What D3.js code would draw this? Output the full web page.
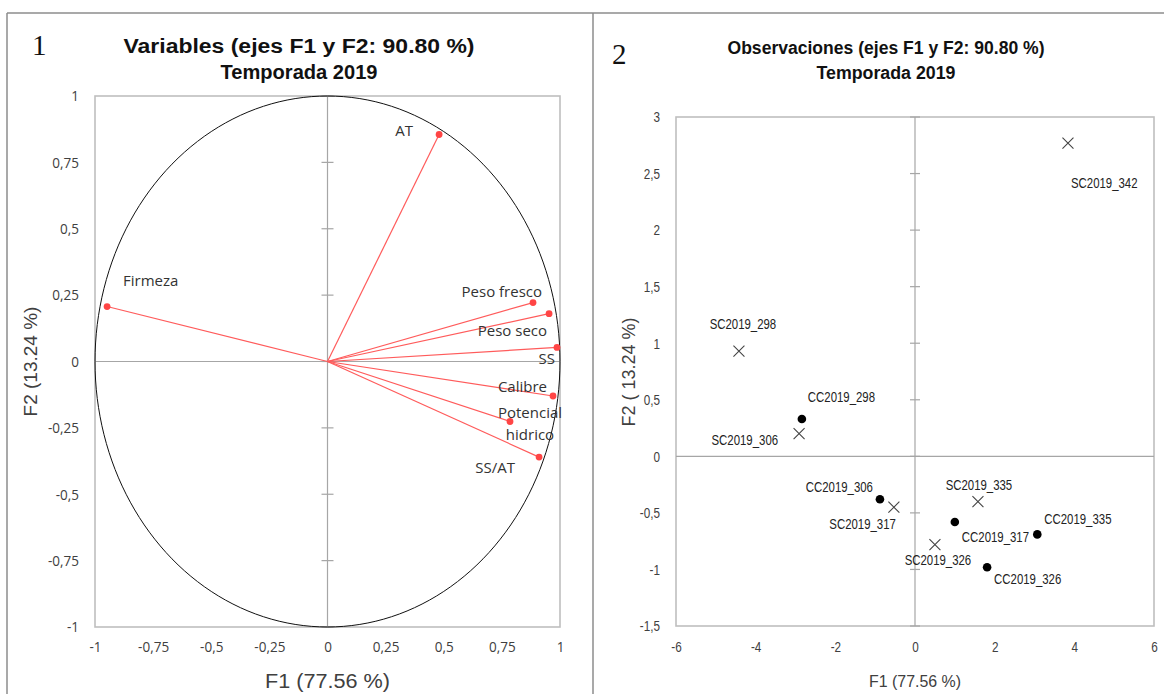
<!DOCTYPE html>
<html>
<head>
<meta charset="utf-8">
<script src="https://cdn.jsdelivr.net/npm/d3@7"></script>
<style>
  body { margin: 0; background: #fff; }
  .frame { stroke: #8c8c8c; stroke-width: 1.5; fill: none; }
  .box { stroke: #bfbfbf; stroke-width: 1.6; fill: none; }
  .zero { stroke: #a6a6a6; stroke-width: 1.2; }
  .vec { stroke: #ff5b5b; stroke-width: 1.2; }
  .title { font-family: "Liberation Sans", Arial, sans-serif; font-weight: bold; fill: #111; }
  .num { font-family: "Liberation Serif", "Times New Roman", serif; font-size: 29px; fill: #111; }
  .atitle { font-family: "Liberation Sans", Arial, sans-serif; fill: #404040; }
</style>
</head>
<body>
<svg id="chart" width="1164" height="694"></svg>
<script>
// ---- data ----
var variables = ["AT", "Firmeza", "Peso fresco", "Peso seco", "SS", "Calibre", "Potencial hidrico", "SS/AT"];
var varF1 = [0.48, -0.948, 0.884, 0.953, 0.987, 0.97, 0.785, 0.91];
var varF2 = [0.855, 0.207, 0.222, 0.18, 0.053, -0.13, -0.226, -0.36];

var observations = ["SC2019_342", "SC2019_298", "CC2019_298", "SC2019_306", "CC2019_306", "SC2019_317",
  "SC2019_335", "CC2019_317", "CC2019_335", "SC2019_326", "CC2019_326"];
var obsF1 = [3.84, -4.42, -2.84, -2.91, -0.88, -0.53, 1.58, 1.0, 3.07, 0.5, 1.81];
var obsF2 = [2.77, 0.93, 0.33, 0.2, -0.38, -0.45, -0.40, -0.58, -0.69, -0.78, -0.98];
var obsType = ["SC", "SC", "CC", "SC", "CC", "SC", "SC", "CC", "CC", "SC", "CC"];

var ticksLeft = [-1, -0.75, -0.5, -0.25, 0, 0.25, 0.5, 0.75, 1];
var ticksRightX = [-6, -4, -2, 0, 2, 4, 6];
var ticksRightY = [-1.5, -1, -0.5, 0, 0.5, 1, 1.5, 2, 2.5, 3];

// label placement (pixels, relative to the point)
var varLabelPos = {
  "AT": [-26, 2, "end"], "Firmeza": [16, -21, "start"], "Peso fresco": [9, -6, "end"],
  "Peso seco": [-2, 22, "end"], "SS": [-2, 17, "end"], "Calibre": [-6, -4, "end"],
  "Potencial hidrico": [20, -4, "middle"], "SS/AT": [-24, 16, "end"]
};
var obsLabelPos = {
  "SC2019_342": [3, 45, "start"], "SC2019_298": [4, -22, "middle"], "CC2019_298": [6, -17, "start"],
  "SC2019_306": [-21, 11, "end"], "CC2019_306": [-7, -7, "end"], "SC2019_317": [2, 22, "end"],
  "SC2019_335": [1, -12, "middle"], "CC2019_317": [7, 20, "start"], "CC2019_335": [7, -10, "start"],
  "SC2019_326": [3, 20, "middle"], "CC2019_326": [7, 17, "start"]
};

var loc = d3.formatLocale({ decimal: ",", thousands: ".", grouping: [3], currency: ["", ""], minus: "-" });
var fmt = loc.format("~g");

// squeeze text horizontally, like a narrow font
function narrow(sel, k) {
  sel.each(function () {
    var w = this.getComputedTextLength();
    d3.select(this).attr("textLength", w * k).attr("lengthAdjust", "spacingAndGlyphs");
  });
}

var svg = d3.select("#chart");

// outer table frame
svg.append("line").attr("class", "frame").attr("x1", 7).attr("x2", 1164).attr("y1", 13).attr("y2", 13);
svg.append("line").attr("class", "frame").attr("x1", 7).attr("x2", 7).attr("y1", 13).attr("y2", 694);
svg.append("line").attr("class", "frame").attr("x1", 593).attr("x2", 593).attr("y1", 13).attr("y2", 694);

// ===== panel 1: variables =====
var x1 = d3.scaleLinear().domain([-1, 1]).range([95, 560]);
var y1 = d3.scaleLinear().domain([-1, 1]).range([627, 96]);
var g1 = svg.append("g");

g1.append("rect").attr("class", "box")
  .attr("x", x1(-1)).attr("y", y1(1)).attr("width", x1(1) - x1(-1)).attr("height", y1(-1) - y1(1));
g1.append("line").attr("class", "zero").attr("x1", x1(-1)).attr("x2", x1(1)).attr("y1", y1(0)).attr("y2", y1(0));
g1.append("line").attr("class", "zero").attr("x1", x1(0)).attr("x2", x1(0)).attr("y1", y1(1)).attr("y2", y1(-1));

// tick marks across the vertical zero line
g1.selectAll(".ty").data(ticksLeft).enter().append("line").attr("class", "zero")
  .attr("x1", x1(0) - 6).attr("x2", x1(0) + 6).attr("y1", d => y1(d)).attr("y2", d => y1(d));

function styleTicks(ax, family, size) {
  ax.select(".domain").remove();
  ax.attr("font-family", family).attr("font-size", size);
  ax.selectAll("text").attr("fill", "#404040");
}

var ax1 = g1.append("g").attr("transform", "translate(" + (x1(-1) - 13) + ",0)")
  .call(d3.axisLeft(y1).tickValues(ticksLeft).tickFormat(fmt).tickSize(0));
styleTicks(ax1, "Open Sans, sans-serif", 15);
var bx1 = g1.append("g").attr("transform", "translate(0," + (y1(-1) + 11) + ")")
  .call(d3.axisBottom(x1).tickValues(ticksLeft).tickFormat(fmt).tickSize(0));
styleTicks(bx1, "Open Sans, sans-serif", 15);
ax1.selectAll("text").call(narrow, 0.9);
bx1.selectAll("text").call(narrow, 0.9);

// correlation circle
var circ = d3.range(0, 361, 2).map(a => [Math.cos(a * Math.PI / 180), Math.sin(a * Math.PI / 180)]);
g1.append("path").attr("d", d3.line().x(d => x1(d[0])).y(d => y1(d[1]))(circ))
  .attr("fill", "none").attr("stroke", "#111").attr("stroke-width", 1);

// vectors
variables.forEach(function (v, i) {
  var px = x1(varF1[i]), py = y1(varF2[i]);
  g1.append("line").attr("class", "vec").attr("x1", x1(0)).attr("y1", y1(0)).attr("x2", px).attr("y2", py);
  g1.append("circle").attr("cx", px).attr("cy", py).attr("r", 3.4).attr("fill", "#ff4545");
  var p = varLabelPos[v];
  var t = g1.append("text").attr("text-anchor", p[2])
    .attr("font-family", "Open Sans, sans-serif").attr("font-size", 15).attr("fill", "#333");
  if (v === "Potencial hidrico") {
    t.append("tspan").attr("x", px + p[0]).attr("y", py + p[1]).text("Potencial");
    t.append("tspan").attr("x", px + p[0]).attr("y", py + p[1] + 22).text("hidrico");
  } else {
    t.attr("x", px + p[0]).attr("y", py + p[1]).text(v);
  }
});

// titles panel 1
svg.append("text").attr("class", "num").attr("x", 32).attr("y", 55).text("1");
svg.append("text").attr("class", "title").attr("x", 299).attr("y", 53).attr("text-anchor", "middle")
  .attr("font-size", 20).attr("textLength", 351).attr("lengthAdjust", "spacingAndGlyphs")
  .text("Variables (ejes F1 y F2: 90.80 %)");
svg.append("text").attr("class", "title").attr("x", 299).attr("y", 79).attr("text-anchor", "middle")
  .attr("font-size", 20).attr("textLength", 157).attr("lengthAdjust", "spacingAndGlyphs")
  .text("Temporada 2019");
svg.append("text").attr("class", "atitle").attr("font-size", 19)
  .attr("transform", "translate(37," + y1(0) + ") rotate(-90)").attr("text-anchor", "middle")
  .text("F2 (13.24 %)");
svg.append("text").attr("class", "atitle").attr("font-size", 20).attr("x", x1(0)).attr("y", 688)
  .attr("text-anchor", "middle").attr("textLength", 125).attr("lengthAdjust", "spacingAndGlyphs")
  .text("F1 (77.56 %)");

// ===== panel 2: observations =====
var x2 = d3.scaleLinear().domain([-6, 6]).range([676, 1154]);
var y2 = d3.scaleLinear().domain([-1.5, 3]).range([626, 117]);
var g2 = svg.append("g");

g2.append("rect").attr("class", "box")
  .attr("x", x2(-6)).attr("y", y2(3)).attr("width", x2(6) - x2(-6)).attr("height", y2(-1.5) - y2(3));
g2.append("line").attr("class", "zero").attr("x1", x2(-6)).attr("x2", x2(6)).attr("y1", y2(0)).attr("y2", y2(0));
g2.append("line").attr("class", "zero").attr("x1", x2(0)).attr("x2", x2(0)).attr("y1", y2(3)).attr("y2", y2(-1.5));
g2.selectAll(".ty").data(ticksRightY).enter().append("line").attr("class", "zero")
  .attr("x1", x2(0) - 5).attr("x2", x2(0) + 5).attr("y1", d => y2(d)).attr("y2", d => y2(d));

var ax2 = g2.append("g").attr("transform", "translate(" + (x2(-6) - 13) + ",0)")
  .call(d3.axisLeft(y2).tickValues(ticksRightY).tickFormat(fmt).tickSize(0));
styleTicks(ax2, "Liberation Sans, Arial, sans-serif", 15);
ax2.selectAll("text").call(narrow, 0.78);
var bx2 = g2.append("g").attr("transform", "translate(0," + (y2(-1.5) + 12) + ")")
  .call(d3.axisBottom(x2).tickValues(ticksRightX).tickFormat(fmt).tickSize(0));
styleTicks(bx2, "Liberation Sans, Arial, sans-serif", 15);
bx2.selectAll("text").call(narrow, 0.78);

observations.forEach(function (o, i) {
  var px = x2(obsF1[i]), py = y2(obsF2[i]);
  if (obsType[i] === "CC") {
    g2.append("circle").attr("cx", px).attr("cy", py).attr("r", 4.3).attr("fill", "#000");
  } else {
    var s = 5.5;
    g2.append("path").attr("d", "M" + (px - s) + "," + (py - s) + "L" + (px + s) + "," + (py + s) +
      "M" + (px - s) + "," + (py + s) + "L" + (px + s) + "," + (py - s))
      .attr("stroke", "#444").attr("stroke-width", 1.1);
  }
  var p = obsLabelPos[o];
  g2.append("text").attr("x", px + p[0]).attr("y", py + p[1])
    .attr("text-anchor", p[2]).attr("font-family", "Liberation Sans, Arial, sans-serif")
    .attr("font-size", 15).attr("fill", "#222").text(o)
    .call(narrow, 0.76);
});

svg.append("text").attr("class", "num").attr("x", 612).attr("y", 64).text("2");
svg.append("text").attr("class", "title").attr("x", 886).attr("y", 54).attr("text-anchor", "middle")
  .attr("font-size", 18).attr("textLength", 317).attr("lengthAdjust", "spacingAndGlyphs")
  .text("Observaciones (ejes F1 y F2: 90.80 %)");
svg.append("text").attr("class", "title").attr("x", 886).attr("y", 79).attr("text-anchor", "middle")
  .attr("font-size", 18).attr("textLength", 139).attr("lengthAdjust", "spacingAndGlyphs")
  .text("Temporada 2019");
svg.append("text").attr("class", "atitle").attr("font-size", 18)
  .attr("transform", "translate(635," + 372 + ") rotate(-90)").attr("text-anchor", "middle")
  .text("F2 ( 13.24 %)");
svg.append("text").attr("class", "atitle").attr("font-size", 17).attr("x", x2(0)).attr("y", 687)
  .attr("text-anchor", "middle").attr("textLength", 92).attr("lengthAdjust", "spacingAndGlyphs")
  .text("F1 (77.56 %)");
</script>
</body>
</html>
